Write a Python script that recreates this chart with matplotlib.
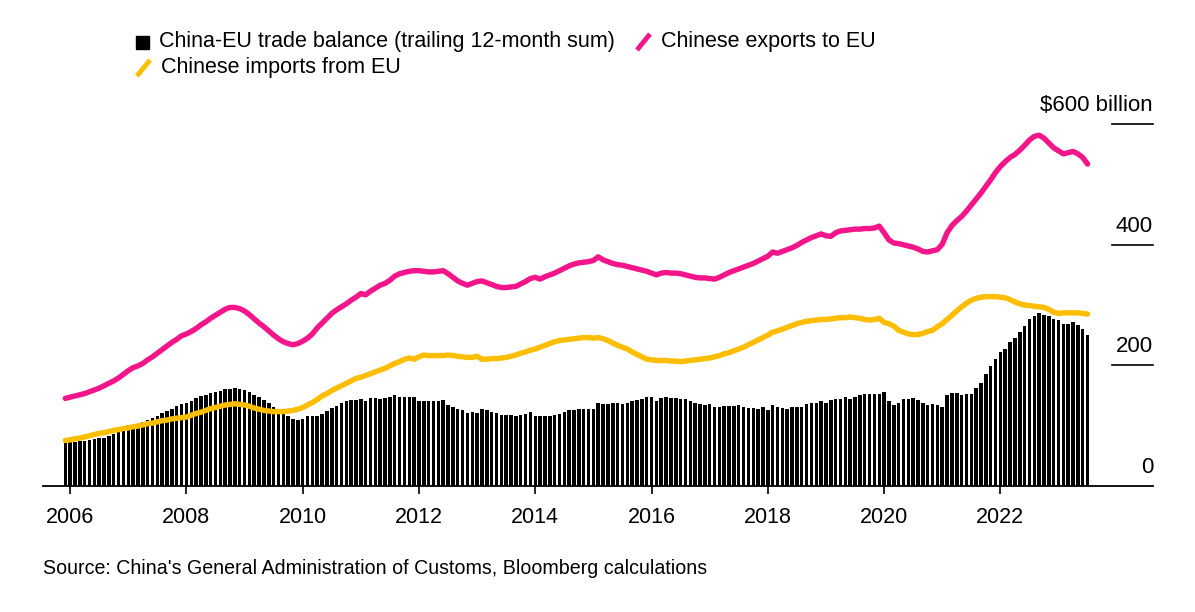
import numpy as np
import matplotlib.pyplot as plt
from matplotlib.patches import Rectangle
from matplotlib.lines import Line2D

plt.rcParams['font.family'] = ['Liberation Sans', 'DejaVu Sans']

# monthly values, Dec 2005 .. Jul 2023, $ billion (trailing 12-month sums)
exports = [145,
    147, 149, 151, 153, 156, 159, 162, 166, 170, 174, 179, 185,  # 2006
    191, 196, 199, 203, 209, 214, 220, 226, 232, 238, 243, 249,  # 2007
    252, 256, 261, 267, 272, 278, 283, 288, 293, 296, 296, 294,  # 2008
    290, 284, 277, 270, 264, 257, 250, 244, 239, 236, 234, 236,  # 2009
    240, 245, 252, 262, 270, 278, 286, 292, 297, 302, 308, 313,  # 2010
    319, 317, 323, 328, 333, 336, 341, 348, 352, 354, 356, 357,  # 2011
    357, 356, 355, 355, 356, 357, 352, 346, 340, 336, 333, 336,  # 2012
    339, 340, 337, 334, 331, 329, 329, 330, 331, 335, 339, 344,  # 2013
    346, 343, 347, 350, 353, 357, 361, 365, 368, 370, 371, 372,  # 2014
    374, 380, 375, 372, 369, 367, 366, 364, 362, 360, 358, 356,  # 2015
    353, 350, 353, 354, 353, 353, 352, 350, 348, 346, 345, 345,  # 2016
    344, 343, 346, 350, 354, 357, 360, 363, 366, 369, 373, 377,  # 2017
    381, 388, 386, 389, 392, 395, 399, 404, 408, 412, 415, 418,  # 2018
    415, 414, 420, 423, 424, 425, 426, 426, 427, 427, 428, 431,  # 2019
    420, 408, 403, 402, 400, 398, 396, 393, 389, 388, 390, 392,  # 2020
    401, 420, 432, 440, 447, 456, 466, 476, 486, 497, 508, 520,  # 2021
    530, 538, 545, 550, 557, 565, 574, 580, 582, 577, 569, 561,  # 2022
    556, 551, 553, 555, 551, 545, 534]                           # 2023

imports = [75,
    76, 78, 79, 81, 83, 85, 87, 88, 90, 92, 93, 95,
    96, 98, 99, 101, 103, 104, 106, 108, 109, 111, 112, 113,
    114, 117, 120, 122, 125, 128, 130, 132, 134, 135, 136, 135,
    134, 132, 129, 127, 125, 124, 123, 123, 123, 124, 125, 127,
    130, 134, 138, 143, 149, 153, 158, 162, 166, 170, 174, 178,
    180, 183, 186, 189, 192, 195, 199, 203, 206, 210, 212, 210,
    214, 217, 216, 216, 216, 216, 217, 216, 215, 214, 213, 213,
    215, 210, 210, 211, 211, 212, 213, 215, 217, 220, 222, 225,
    227, 230, 233, 236, 239, 241, 242, 243, 244, 245, 246, 246,
    245, 246, 244, 241, 237, 233, 230, 227, 222, 218, 214, 210,
    209, 208, 208, 208, 207, 207, 206, 207, 208, 209, 210, 211,
    212, 214, 216, 219, 221, 224, 227, 230, 234, 238, 242, 246,
    250, 255, 257, 260, 263, 266, 269, 271, 273, 274, 275, 276,
    276, 277, 278, 279, 279, 280, 279, 278, 276, 275, 276, 278,
    271, 269, 265, 258, 255, 252, 251, 251, 253, 256, 258, 264,
    269, 276, 283, 290, 297, 303, 308, 311, 313, 314, 314, 314,
    313, 312, 309, 305, 302, 300, 299, 298, 297, 296, 293, 288,
    286, 287, 287, 287, 287, 286, 285]

balance = [71,
    72, 73, 74, 75, 76, 77, 79, 80, 83, 86, 89, 94,
    100, 101, 103, 106, 109, 113, 116, 120, 124, 128, 132, 136,
    138, 141, 145, 149, 151, 154, 156, 158, 160, 161, 162, 161,
    159, 155, 151, 147, 142, 137, 131, 126, 120, 115, 111, 109,
    110, 116, 115, 116, 119, 124, 129, 133, 137, 140, 142, 143,
    144, 141, 145, 145, 144, 145, 148, 150, 148, 147, 147, 147,
    141, 140, 140, 140, 141, 142, 134, 130, 127, 125, 121, 122,
    120, 128, 126, 123, 120, 118, 118, 117, 116, 118, 119, 122,
    116, 116, 116, 116, 117, 119, 123, 126, 126, 127, 128, 127,
    127, 137, 135, 135, 138, 138, 136, 138, 140, 143, 144, 148,
    147, 141, 146, 148, 145, 145, 144, 144, 141, 138, 136, 134,
    135, 130, 131, 132, 133, 133, 134, 130, 129, 129, 128, 130,
    125, 134, 130, 129, 127, 131, 131, 131, 136, 138, 138, 140,
    137, 142, 144, 144, 147, 144, 148, 151, 152, 153, 152, 152,
    155, 140, 134, 138, 144, 144, 145, 142, 138, 134, 136, 134,
    131, 151, 154, 154, 151, 152, 153, 162, 171, 186, 198, 210,
    222, 227, 238, 245, 255, 265, 277, 281, 286, 283, 282, 276,
    275, 268, 269, 271, 267, 260, 250]

years = [2006, 2008, 2010, 2012, 2014, 2016, 2018, 2020, 2022]
y_ticks = [0, 200, 400, 600]
y_labels = ['0', '200', '400', '$600 billion']

# month index, 0 = Jan 2006
months = np.arange(len(balance)) - 1

fig = plt.figure(figsize=(11.95, 6.12), dpi=100)
ax = fig.add_axes([43/1195, 1 - 485.7/612, 1110/1195, (485.7 - 112.3)/612])

ax.bar(months, balance, width=0.72, color='black', linewidth=0)
ax.plot(months, imports, color='#fdbd00', lw=3.9, solid_capstyle='round')
ax.plot(months, exports, color='#f2168a', lw=3.9, solid_capstyle='round')

ax.set_xlim(-5.6, 223.5)
ax.set_ylim(0, 620)

for s in ['top', 'right', 'left']:
    ax.spines[s].set_visible(False)
ax.spines['bottom'].set_linewidth(1.3)
ax.set_yticks([])
ax.set_xticks([(y - 2006) * 12 for y in years])
ax.set_xticklabels([str(y) for y in years], fontsize=15.5)
ax.tick_params(axis='x', length=6, width=1.2, pad=9)

for v, lab in zip(y_ticks, y_labels):
    if v > 0:
        ax.plot([0.963, 1.0], [v, v], transform=ax.get_yaxis_transform(),
                color='black', lw=1.2, clip_on=False)
    ax.annotate(lab, xy=(1.0, v), xycoords=ax.get_yaxis_transform(),
                xytext=(0, 9.5), textcoords='offset points',
                ha='right', va='baseline', fontsize=16)

# legend drawn by hand
W, H = 1195, 612
fig.patches.append(Rectangle((136/W, 1 - 49/H), 13/W, 13/H, color='black',
                             transform=fig.transFigure))
fig.text(159/W, 1 - 42/H, 'China-EU trade balance (trailing 12-month sum)',
         fontsize=15.5, va='center')
fig.add_artist(Line2D([637/W, 650/W], [1 - 50/H, 1 - 34/H], color='#f2168a',
                      lw=3.5, solid_capstyle='butt'))
fig.text(661/W, 1 - 42/H, 'Chinese exports to EU', fontsize=15.5, va='center')
fig.add_artist(Line2D([137/W, 150/W], [1 - 76/H, 1 - 60/H], color='#fdbd00',
                      lw=3.5, solid_capstyle='butt'))
fig.text(161/W, 1 - 68/H, 'Chinese imports from EU', fontsize=15.5, va='center')

fig.text(43/W, 1 - 569/H,
         "Source: China's General Administration of Customs, Bloomberg calculations",
         fontsize=14.1, va='center')

fig.savefig('out.png', dpi=100)
